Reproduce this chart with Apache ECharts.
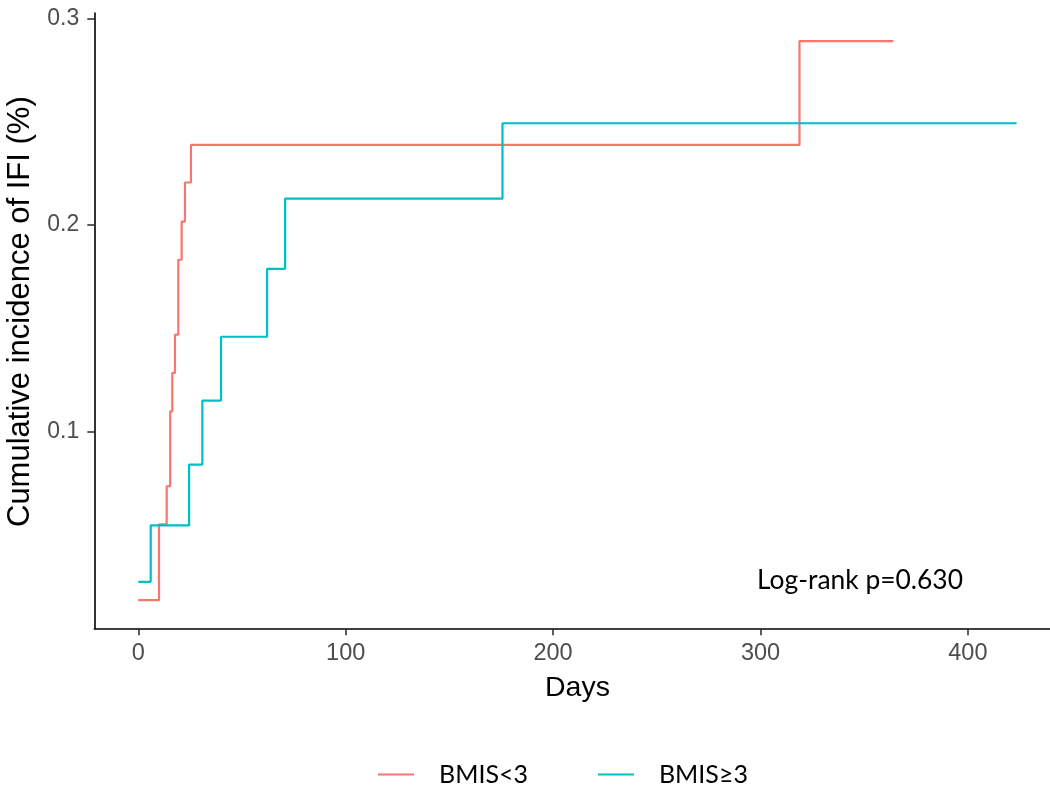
<!DOCTYPE html>
<html lang="en">
<head>
    <meta charset="UTF-8" />
    <title>Cumulative incidence of IFI</title>
    <script src="https://cdn.jsdelivr.net/npm/echarts@6/dist/echarts.min.js"></script>
    <style>
        body { margin: 0; background: #fff; }
    </style>
</head>
<body>
    <div style="width: 1050px; height: 787px" id="chart"></div>
    <script>
        // step times (days) and cumulative incidence for each group
        const redDays = [0, 10.0, 13.7, 15.4, 16.4, 17.7, 19.3, 20.9, 22.5, 25.4, 318.8, 364.1];
        const redInc = [0.0182, 0.0549, 0.0734, 0.1097, 0.1283, 0.1468, 0.1831, 0.2016, 0.2205, 0.2387, 0.289, 0.289];

        const tealDays = [0, 6.0, 24.5, 30.9, 39.9, 62.1, 70.8, 175.6, 423.5];
        const tealInc = [0.0271, 0.0544, 0.0839, 0.1149, 0.1458, 0.1787, 0.2127, 0.2492, 0.2492];

        const groupNames = ["BMIS<3", "BMIS≥3"];
        const xTicks = [0, 100, 200, 300, 400];
        const yTicks = [0.1, 0.2, 0.3];
        const pText = "Log-rank p=0.630";

        const myChart = echarts.init(document.getElementById("chart"));

        function pairs(xs, ys) {
            return xs.map((x, i) => [x, ys[i]]);
        }

        const option = {
            animation: false,
            backgroundColor: "#fff",
            title: {
                text: pText,
                left: 752,
                top: 562,
                textStyle: { fontFamily: "Lato", fontSize: 26.4, fontWeight: "normal", color: "#000" },
            },
            legend: {
                data: groupNames,
                left: 373,
                top: 757,
                icon: "rect",
                itemWidth: 36,
                itemHeight: 2,
                itemGap: 70,
                textStyle: { fontFamily: "Lato", fontSize: 25, color: "#000", padding: [0, 0, 0, 20] },
            },
            grid: { left: 94.3, top: 13, right: -10.6, bottom: 158.7, outerBoundsMode: "none" },
            xAxis: {
                type: "value",
                min: -21.2,
                max: 444.7,
                name: "Days",
                nameLocation: "middle",
                nameGap: 45,
                nameTextStyle: { fontFamily: "Liberation Sans", fontSize: 28.5, color: "#000" },
                splitLine: { show: false },
                axisLine: { onZero: false, lineStyle: { color: "#000", width: 1.6 } },
                axisTick: { customValues: xTicks, length: 7, lineStyle: { color: "#333", width: 1.6 } },
                axisLabel: { customValues: xTicks, margin: 13, fontFamily: "Liberation Sans", fontSize: 23.5, color: "#4d4d4d" },
            },
            yAxis: {
                type: "value",
                min: 0.0046,
                max: 0.3026,
                name: "Cumulative incidence of IFI (%)",
                nameLocation: "middle",
                nameGap: 46,
                nameTextStyle: { fontFamily: "Liberation Sans", fontSize: 31, color: "#000", padding: [0, 0, 0, 18] },
                splitLine: { show: false },
                axisLine: { show: true, onZero: false, lineStyle: { color: "#000", width: 1.6 } },
                axisTick: { show: true, customValues: yTicks, length: 7, lineStyle: { color: "#333", width: 1.6 } },
                axisLabel: { customValues: yTicks, margin: 15, fontFamily: "Liberation Sans", fontSize: 23, color: "#4d4d4d" },
            },
            series: [
                {
                    name: groupNames[0],
                    type: "line",
                    step: "end",
                    symbol: "none",
                    color: "#F8766D",
                    lineStyle: { width: 2.2 },
                    data: pairs(redDays, redInc),
                },
                {
                    name: groupNames[1],
                    type: "line",
                    step: "end",
                    symbol: "none",
                    color: "#00BFC4",
                    lineStyle: { width: 2.2 },
                    data: pairs(tealDays, tealInc),
                },
            ],
        };

        myChart.setOption(option);
    </script>
</body>
</html>
